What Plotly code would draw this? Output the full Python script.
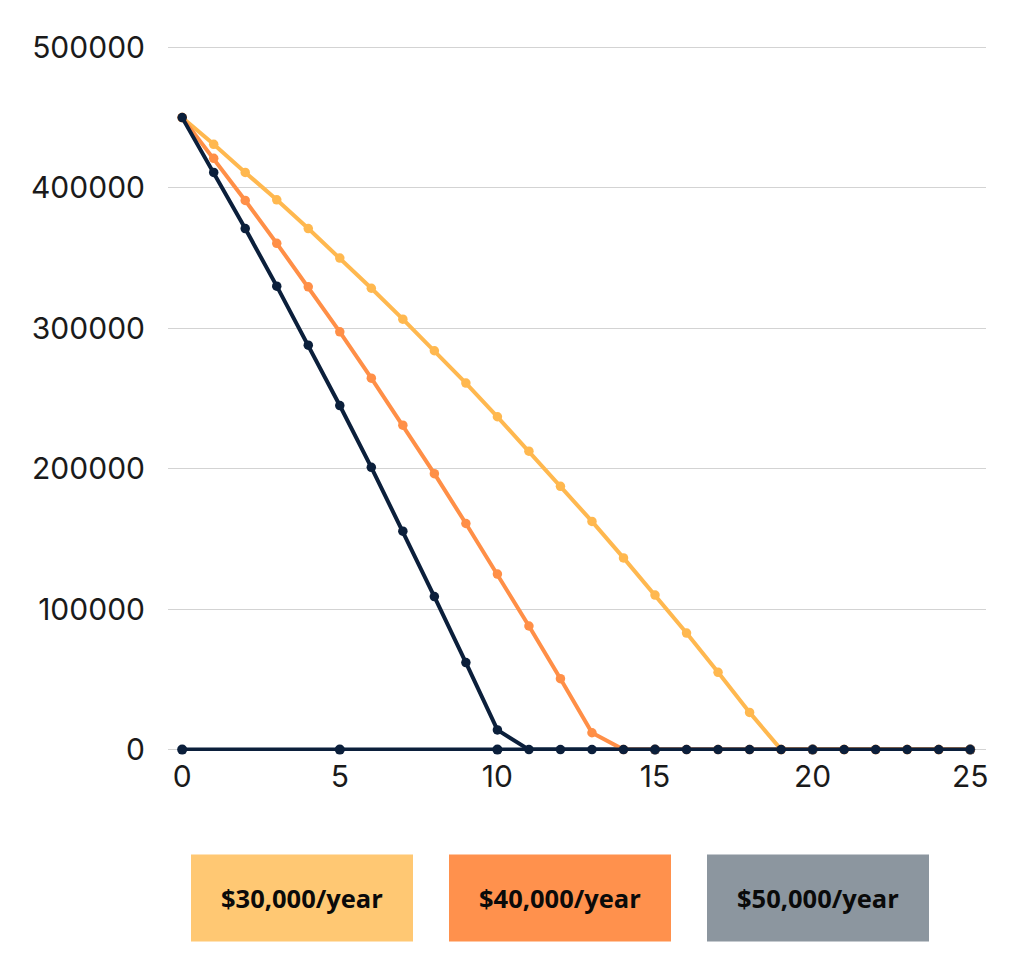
import plotly.graph_objects as go

years = list(range(26))
series_names = ["$30,000/year", "$40,000/year", "$50,000/year"]
balance_30k = [450000, 431000, 411000, 391500, 371000, 350000, 328500, 306500, 284000, 261000,
               237000, 212500, 187500, 162500, 136500, 110000, 83000, 55000, 26500, 0,
               0, 0, 0, 0, 0, 0]
balance_40k = [450000, 421000, 391000, 360500, 329500, 297500, 264500, 231000, 196500, 161000,
               125000, 88000, 50500, 12000, 0, 0, 0, 0, 0, 0,
               0, 0, 0, 0, 0, 0]
balance_50k = [450000, 411000, 371000, 330000, 288000, 245000, 201000, 155500, 109000, 62000,
               14000, 0, 0, 0, 0, 0, 0, 0, 0, 0,
               0, 0, 0, 0, 0, 0]
baseline_x = [0, 5, 10, 15, 20, 25]
baseline_y = [0, 0, 0, 0, 0, 0]
y_ticks = [0, 100000, 200000, 300000, 400000, 500000]
x_ticks = [0, 5, 10, 15, 20, 25]

line_colors = ["#FFB84F", "#FF8F47", "#0B1F3B"]
box_colors = ["#FFC873", "#FF914D", "#8C969F"]

fig = go.Figure()
fig.add_trace(go.Scatter(x=baseline_x, y=baseline_y, mode="lines+markers",
                         line=dict(color=line_colors[2], width=4),
                         marker=dict(size=10, color=line_colors[2]),
                         cliponaxis=False, showlegend=False, hoverinfo="skip"))
for name, vals, col in zip(series_names, [balance_30k, balance_40k, balance_50k], line_colors):
    fig.add_trace(go.Scatter(x=years, y=vals, name=name, mode="lines+markers",
                             line=dict(color=col, width=4),
                             marker=dict(size=9.5, color=col),
                             cliponaxis=False, showlegend=False))

# page offset of the figure inside the browser
OFF = 8
L, R = 168 - OFF, 986 - OFF
T, B = 45.6 - OFF, 751.4 - OFF
W, H = R - L, B - T

def paper_x(sx):
    return (sx - OFF - L) / W

def paper_y(sy):
    return (B - (sy - OFF)) / H

box_x = [(191, 413), (449, 671), (707, 929)]
for (x0, x1), name, col in zip(box_x, series_names, box_colors):
    px0, px1 = paper_x(x0), paper_x(x1)
    py0, py1 = paper_y(942), paper_y(855)
    fig.add_shape(type="rect", xref="paper", yref="paper", x0=px0, x1=px1, y0=py0, y1=py1,
                  fillcolor=col, line=dict(width=0), layer="above")
    fig.add_annotation(xref="paper", yref="paper", x=(px0 + px1) / 2, y=(py0 + py1) / 2,
                       text="<b>" + name + "</b>", showarrow=False,
                       font=dict(family="Open Sans", size=25.5, color="#0A0A0A"),
                       xanchor="center", yanchor="middle")

fig.update_layout(
    width=1024, height=980,
    margin=dict(l=L, r=1024 - R, t=T, b=980 - B, pad=0),
    paper_bgcolor="white", plot_bgcolor="white",
    font=dict(family="Inter", size=30, color="#1a1a1a"),
    showlegend=False,
)
fig.update_xaxes(range=[-0.45, 25.5], tickvals=x_ticks, showgrid=False, zeroline=False,
                 showline=False, ticks="", ticklabelstandoff=5)
fig.update_yaxes(range=[-1000, 501000], tickvals=y_ticks, showgrid=True, gridcolor="#D3D3D3",
                 gridwidth=1, zeroline=False, showline=False, ticks="",
                 ticklabelstandoff=22, tickformat="d")

fig.write_html("out.html")
